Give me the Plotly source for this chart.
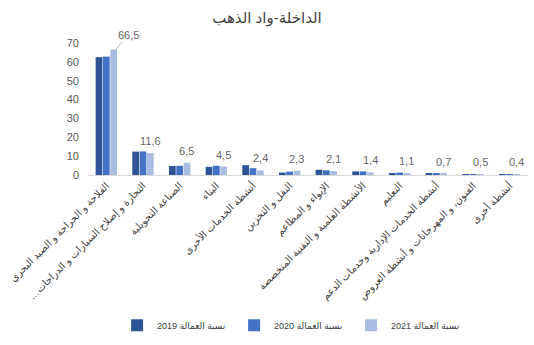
import plotly.graph_objects as go

title_text = "الداخلة-واد الذهب"

sectors = [
    "الفلاحة و الحراجة و الصيد البحري",
    "التجارة و إصلاح السيارات و الدراجات…\u200f",
    "الصناعة التحويلية",
    "البناء",
    "أنشطة الخدمات الأخرى",
    "النقل و التخزين",
    "الإيواء و المطاعم",
    "الأنشطة العلمية و التقنية المتخصصة",
    "التعليم",
    "أنشطة الخدمات الإدارية وخدمات الدعم",
    "الفنون، و المهرجانات و أنشطة العروض",
    "أنشطة أخرى",
]

share_2019 = [62.5, 12.4, 4.8, 4.3, 5.2, 1.3, 2.8, 1.9, 1.0, 0.9, 0.5, 0.4]
share_2020 = [62.8, 12.5, 4.9, 4.9, 3.6, 1.8, 2.5, 1.9, 1.3, 0.7, 0.5, 0.4]
share_2021 = [66.5, 11.6, 6.5, 4.5, 2.4, 2.3, 2.1, 1.4, 1.1, 0.7, 0.5, 0.4]

series_names = ["نسبة العمالة 2019", "نسبة العمالة 2020", "نسبة العمالة 2021"]
y_ticks = [0, 10, 20, 30, 40, 50, 60, 70]

colors = ["#2F5496", "#4472C4", "#A9BCE2"]
font_family = "Liberation Sans, Arial, DejaVu Sans, sans-serif"

fig = go.Figure()
for name, vals, col in zip(series_names, [share_2019, share_2020, share_2021], colors):
    fig.add_trace(go.Bar(x=sectors, y=vals, name=name, marker_color=col,
                         marker_line_width=0))

# value labels above the 2021 bars
bar_offset = 7.3
for i, (cat, v) in enumerate(zip(sectors, share_2021)):
    label = f"{v:.1f}".replace(".", ",")
    if i == 0:
        fig.add_annotation(x=cat, y=v, text=label, xshift=bar_offset + 2,
                           showarrow=True, arrowhead=0, arrowwidth=0.8,
                           arrowcolor="#a6a6a6", ax=13, ay=-15,
                           font=dict(size=11, color="#666666", family=font_family))
    else:
        fig.add_annotation(x=cat, y=v, text=label, xshift=bar_offset,
                           yshift=12, showarrow=False, yanchor="middle",
                           font=dict(size=11, color="#666666", family=font_family))

fig.update_layout(
    width=534, height=345,
    margin=dict(l=88, r=6, t=43, b=170),
    paper_bgcolor="white", plot_bgcolor="white",
    separators=", ",
    barmode="group", bargap=0.4, bargroupgap=0.08,
    title=dict(text=title_text, x=0.5, xanchor="center", y=0.95, yanchor="middle",
               font=dict(size=15, color="#404040", family=font_family)),
    font=dict(family=font_family, color="#595959"),
    showlegend=True,
    legend=dict(orientation="h", x=0.465, xanchor="center", y=0.015, yref="container",
                yanchor="bottom", font=dict(size=9, color="#404040"),
                itemwidth=30, traceorder="normal",
                entrywidth=72, entrywidthmode="pixels"),
)
fig.update_xaxes(tickangle=-45, tickfont=dict(size=10, color="#404040"),
                 showline=True, linecolor="#d9d9d9", linewidth=1, ticks="",
                 showgrid=False)
fig.update_yaxes(range=[0, 70], tickvals=y_ticks, showgrid=False, zeroline=False,
                 showline=False, ticks="", ticklabelstandoff=8,
                 tickfont=dict(size=11, color="#595959"))

fig.write_html("out.html")
